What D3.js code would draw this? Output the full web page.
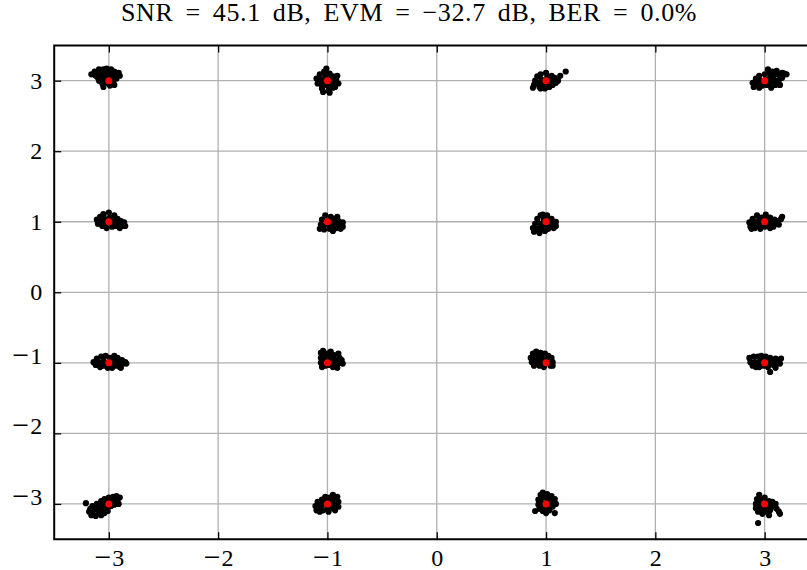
<!DOCTYPE html>
<html lang="en">
<head>
<meta charset="UTF-8">
<title>16-QAM constellation</title>
<script src="https://d3js.org/d3.v7.min.js"></script>
<style>
  body { margin: 0; background: #fff; }
  svg text { font-family: "Liberation Serif", "Times New Roman", serif; fill: #000; }
</style>
</head>
<body>
<div id="chart"></div>
<script>
const title = "SNR = 45.1 dB, EVM = \u221232.7 dB, BER = 0.0%";
const xTicks = [-3, -2, -1, 0, 1, 2, 3];
const yTicks = [-3, -2, -1, 0, 1, 2, 3];

// ideal 16-QAM symbols
const ideal = [
  [-3, 3], [-1, 3], [1, 3], [3, 3],
  [-3, 1], [-1, 1], [1, 1], [3, 1],
  [-3, -1], [-1, -1], [1, -1], [3, -1],
  [-3, -3], [-1, -3], [1, -3], [3, -3]
];

// received samples, one row of the constellation at a time
const rxRow3 = [
  [-3.16,3.09],[-3.13,3.13],[-3.12,3.07],[-3.09,3.16],[-3.08,3.10],[-3.07,3.04],[-3.05,3.16],[-3.05,3.10],
  [-3.04,3.03],[-3.02,3.17],[-3.01,3.11],[-3.00,3.06],[-2.98,3.16],[-2.97,3.10],[-2.96,3.04],[-2.95,3.13],
  [-2.94,3.07],[-2.93,3.03],[-2.90,3.07],[-2.91,3.11],[-3.09,3.00],[-3.06,2.96],[-3.05,2.91],[-3.02,2.97],
  [-2.99,2.93],[-2.96,2.97],[-2.95,2.94],[-3.10,3.04],
  [-1.10,3.03],[-1.09,2.96],[-1.07,3.09],[-1.06,3.01],[-1.05,2.94],[-1.05,2.89],[-1.03,3.13],[-1.02,3.06],
  [-1.01,2.99],[-1.00,2.93],[-0.99,2.86],[-1.01,3.17],[-0.98,3.10],[-0.97,3.03],[-0.96,2.96],[-0.95,2.90],
  [-0.95,3.06],[-0.94,2.99],[-0.92,3.01],[-0.91,3.07],[-0.90,2.96],[-0.93,2.91],[-1.04,2.84],[-0.98,2.83],
  [0.89,2.94],[0.90,3.00],[0.92,3.06],[0.93,2.97],[0.94,2.91],[0.95,3.09],[0.96,3.01],[0.97,2.94],
  [0.99,2.89],[1.00,3.11],[1.01,3.04],[1.02,2.97],[1.03,2.91],[1.05,3.07],[1.05,3.00],[1.06,2.94],
  [1.08,3.04],[1.09,2.97],[1.11,3.00],[0.88,2.90],[0.95,2.89],[1.13,3.07],[1.18,3.13],
  [2.89,2.97],[2.90,2.91],[2.92,3.03],[2.93,2.96],[2.95,2.90],[2.95,3.07],[2.96,3.00],[2.98,2.93],
  [3.00,3.09],[3.01,3.01],[3.02,2.94],[3.04,3.11],[3.05,3.04],[3.05,2.97],[3.06,2.90],[3.07,3.13],
  [3.08,3.07],[3.09,3.00],[3.11,3.14],[3.12,3.09],[3.13,3.01],[3.14,2.94],[3.16,3.11],[3.16,3.04],
  [3.18,3.10],[3.20,3.09],[3.10,2.94],[3.03,3.16]
];
const rxRow1 = [
  [-3.11,1.03],[-3.10,0.97],[-3.08,1.07],[-3.07,1.00],[-3.06,0.94],[-3.05,1.11],[-3.04,1.04],[-3.03,0.97],
  [-3.02,0.91],[-3.00,1.13],[-2.99,1.06],[-2.98,0.99],[-2.97,0.93],[-2.95,1.09],[-2.95,1.01],[-2.94,0.94],
  [-2.92,1.04],[-2.91,0.97],[-2.89,1.01],[-2.88,0.94],[-2.86,0.99],[-2.85,0.94],[-2.90,0.91],[-3.05,1.09],
  [-1.06,0.96],[-1.07,0.90],[-1.05,1.03],[-1.04,0.94],[-1.03,0.89],[-1.02,1.09],[-1.00,1.01],[-0.99,0.96],
  [-0.98,0.90],[-0.97,1.07],[-0.96,1.00],[-0.95,0.93],[-0.95,0.87],[-0.94,1.04],[-0.93,0.97],[-0.92,0.91],
  [-0.90,1.01],[-0.89,0.96],[-0.88,0.90],[-0.86,0.99],[-0.86,0.93],[-0.91,1.07],
  [0.88,0.91],[0.89,0.86],[0.90,0.97],[0.92,1.04],[0.92,0.90],[0.94,0.84],[0.95,0.97],[0.95,1.09],
  [0.96,0.91],[0.98,1.03],[0.99,0.87],[1.00,0.96],[1.01,1.09],[1.02,0.90],[1.03,1.01],[1.04,0.94],
  [1.05,1.04],[1.06,0.97],[1.07,0.91],[1.09,1.00],[1.09,0.94],[0.97,1.10],
  [2.86,0.99],[2.87,0.93],[2.89,1.04],[2.90,0.97],[2.91,0.91],[2.93,1.09],[2.94,1.01],[2.95,0.94],
  [2.96,0.90],[2.97,1.06],[2.98,0.99],[3.00,0.93],[3.01,1.10],[3.02,1.03],[3.03,0.96],[3.05,0.91],
  [3.05,1.06],[3.06,0.99],[3.08,0.93],[3.09,1.03],[3.10,0.97],[3.12,1.01],[3.13,0.96],[3.15,1.04],
  [3.16,1.07],[2.88,0.90]
];
const rxRowM1 = [
  [-3.14,-0.99],[-3.12,-1.03],[-3.11,-0.94],[-3.09,-1.00],[-3.08,-1.06],[-3.07,-0.91],[-3.05,-0.97],[-3.05,-1.04],
  [-3.03,-0.90],[-3.02,-1.00],[-3.01,-1.07],[-2.99,-0.93],[-2.98,-1.01],[-2.97,-1.07],[-2.95,-0.90],[-2.95,-0.97],
  [-2.94,-1.04],[-2.92,-0.93],[-2.91,-1.00],[-2.90,-1.06],[-2.88,-0.96],[-2.87,-1.01],[-2.85,-0.99],[-2.84,-1.01],
  [-2.89,-1.07],
  [-1.06,-0.86],[-1.06,-0.93],[-1.06,-1.00],[-1.05,-1.06],[-1.04,-0.83],[-1.03,-0.90],[-1.03,-0.97],[-1.02,-1.04],
  [-1.00,-0.87],[-0.99,-0.94],[-0.99,-1.03],[-0.97,-0.84],[-0.96,-0.91],[-0.95,-0.99],[-0.95,-1.06],[-0.94,-0.89],
  [-0.93,-0.96],[-0.92,-1.03],[-0.90,-0.87],[-0.89,-0.93],[-0.89,-1.00],[-0.87,-0.96],[-0.86,-1.01],[-0.91,-1.07],
  [0.86,-0.93],[0.87,-0.99],[0.88,-0.87],[0.89,-1.04],[0.90,-0.93],[0.91,-0.84],[0.91,-1.00],[0.93,-0.90],
  [0.94,-0.97],[0.94,-1.04],[0.95,-0.86],[0.96,-0.93],[0.97,-1.00],[0.98,-1.06],[0.99,-0.87],[1.00,-0.96],
  [1.02,-0.90],[1.03,-0.99],[1.04,-1.04],[1.05,-0.93],[1.06,-0.99],[1.06,-1.04],
  [2.86,-0.93],[2.87,-0.99],[2.89,-1.04],[2.90,-0.91],[2.91,-0.99],[2.92,-1.06],[2.94,-0.91],[2.95,-0.99],
  [2.95,-1.06],[2.97,-0.90],[2.98,-0.97],[2.99,-1.04],[3.01,-0.91],[3.02,-0.99],[3.03,-1.06],[3.05,-0.93],
  [3.05,-1.00],[3.07,-0.96],[3.08,-1.03],[3.10,-0.94],[3.11,-1.01],[3.13,-0.96],[3.14,-1.01],[3.15,-0.94],
  [3.10,-1.07],[3.05,-1.13]
];
const rxRowM3 = [
  [-3.21,-2.99],[-3.17,-3.07],[-3.18,-3.11],[-3.16,-3.16],[-3.15,-3.03],[-3.14,-3.09],[-3.12,-3.17],[-3.11,-3.00],
  [-3.10,-3.06],[-3.09,-3.11],[-3.07,-3.16],[-3.07,-2.96],[-3.06,-3.01],[-3.05,-3.07],[-3.04,-3.13],[-3.04,-2.93],
  [-3.03,-2.99],[-3.02,-3.04],[-3.01,-3.10],[-3.00,-2.91],[-2.99,-2.97],[-2.98,-3.03],[-2.96,-2.90],[-2.95,-2.96],
  [-2.95,-3.01],[-2.93,-2.89],[-2.92,-2.94],[-2.91,-3.00],[-2.90,-2.91],
  [-1.11,-3.03],[-1.10,-3.09],[-1.09,-2.97],[-1.07,-3.04],[-1.07,-3.11],[-1.05,-2.94],[-1.05,-3.01],[-1.04,-3.09],
  [-1.02,-2.90],[-1.01,-2.97],[-1.00,-3.04],[-0.99,-3.11],[-0.98,-2.91],[-0.97,-2.99],[-0.96,-3.06],[-0.95,-2.87],
  [-0.95,-2.94],[-0.94,-3.01],[-0.93,-3.09],[-0.91,-2.90],[-0.90,-2.97],[-0.90,-3.04],
  [0.93,-2.94],[0.93,-3.01],[0.94,-3.07],[0.95,-2.87],[0.95,-2.97],[0.96,-3.04],[0.97,-2.84],[0.97,-3.10],
  [0.98,-2.91],[0.99,-3.00],[1.00,-3.06],[1.01,-2.86],[1.02,-2.94],[1.03,-3.01],[1.03,-3.09],[1.05,-2.89],
  [1.05,-2.97],[1.06,-3.04],[1.08,-2.93],[1.09,-3.00],[0.90,-3.10],[1.08,-3.13],[1.00,-3.13],
  [2.95,-2.87],[2.93,-2.93],[2.92,-3.00],[2.92,-3.06],[2.94,-3.11],[2.96,-2.94],[2.96,-3.01],[2.97,-3.07],
  [2.98,-3.14],[3.00,-2.91],[3.01,-2.99],[3.01,-3.06],[3.02,-3.11],[3.04,-2.96],[3.05,-3.03],[3.05,-3.09],
  [3.07,-2.97],[3.08,-3.04],[3.10,-3.00],[3.11,-3.07],[3.13,-3.11],[3.14,-3.14],[3.04,-3.16],[2.94,-3.27]
];
const received = rxRow3.concat(rxRow1, rxRowM1, rxRowM3);

const W = 807, H = 570;
const x = d3.scaleLinear().domain([-3.5, 3.5]).range([54.2, 819.3]);
const y = d3.scaleLinear().domain([-3.5, 3.5]).range([539.2, 45.4]);
const pLeft = x(-3.5), pRight = x(3.5), pTop = y(3.5), pBottom = y(-3.5);

const svg = d3.select('#chart').append('svg')
  .attr('width', W)
  .attr('height', H);

// grid
const grid = svg.append('g').attr('stroke', '#b0b0b0').attr('stroke-width', 1.3);
grid.selectAll('.gx').data(xTicks).enter().append('line')
  .attr('x1', d => x(d)).attr('x2', d => x(d))
  .attr('y1', pTop).attr('y2', pBottom);
grid.selectAll('.gy').data(yTicks).enter().append('line')
  .attr('x1', pLeft).attr('x2', pRight)
  .attr('y1', d => y(d)).attr('y2', d => y(d));

// samples
svg.append('g').selectAll('circle')
  .data(received).enter().append('circle')
  .attr('cx', d => x(d[0]))
  .attr('cy', d => y(d[1]))
  .attr('r', 3.1)
  .attr('fill', '#000');

svg.append('g').selectAll('circle')
  .data(ideal).enter().append('circle')
  .attr('cx', d => x(d[0]))
  .attr('cy', d => y(d[1]))
  .attr('r', 3.5)
  .attr('fill', '#ff0000');

// axes, ticks point inward
const tick = 7;

const xAxis = svg.append('g')
  .attr('transform', `translate(0,${pBottom})`)
  .call(d3.axisBottom(x).tickValues(xTicks).tickSize(-tick).tickPadding(12));
const xTop = svg.append('g')
  .attr('transform', `translate(0,${pTop})`)
  .call(d3.axisTop(x).tickValues(xTicks).tickSize(-tick).tickFormat(''));
const yAxis = svg.append('g')
  .attr('transform', `translate(${pLeft},0)`)
  .call(d3.axisLeft(y).tickValues(yTicks).tickSize(-tick).tickPadding(12));

[xAxis, xTop, yAxis].forEach(a => {
  a.select('.domain').remove();
  a.selectAll('.tick line').attr('stroke', '#000').attr('stroke-width', 1.3);
});

// labels with a wide minus sign, as in the TeX original
[xAxis, yAxis].forEach(a => {
  a.selectAll('.tick text').each(function(d) {
    const t = d3.select(this).text('')
      .attr('font-size', 24)
      .style('font-family', '"Liberation Serif", serif');
    if (d < 0) {
      t.append('tspan').text('\u2212').attr('font-size', 30).attr('dy', '0.04em');
      t.append('tspan').text(Math.abs(d)).attr('dx', 1).attr('dy', '-0.04em');
    } else {
      t.append('tspan').text(d);
    }
  });
});
xAxis.selectAll('.tick text').attr('y', 27).attr('dy', 0);

// frame (right edge falls outside the picture)
svg.append('path')
  .attr('d', `M${pRight},${pTop}H${pLeft}V${pBottom}H${pRight}`)
  .attr('fill', 'none')
  .attr('stroke', '#000')
  .attr('stroke-width', 2);

svg.append('text')
  .attr('x', 409)
  .attr('y', 21)
  .attr('text-anchor', 'middle')
  .attr('font-size', 26)
  .attr('word-spacing', 5)
  .attr('letter-spacing', 0.6)
  .text(title);
</script>
</body>
</html>
